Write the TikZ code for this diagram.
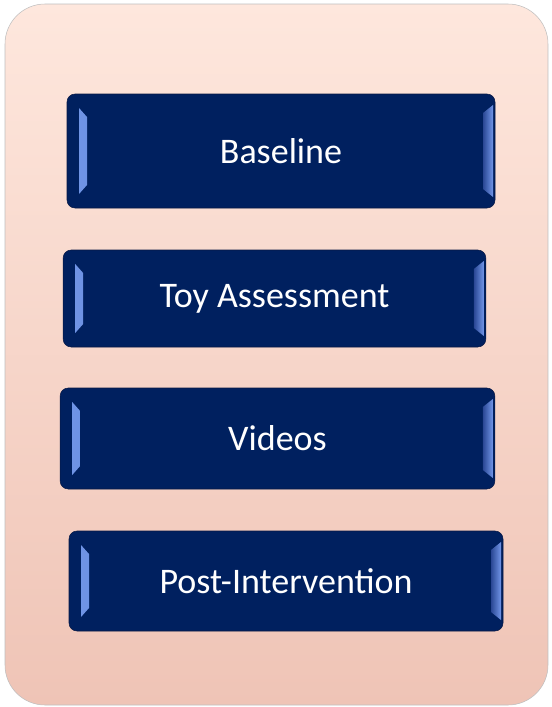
\documentclass[tikz,border=0pt]{standalone}
\usepackage{fontspec}
\setmainfont{Carlito}
\usetikzlibrary{calc}

\definecolor{navy}{HTML}{00205F}
\definecolor{navyedge}{HTML}{0B1A45}
\definecolor{bevellight}{HTML}{7196E8}
\definecolor{beveldark}{HTML}{2A4794}
\definecolor{paneltop}{HTML}{FEE7DD}
\definecolor{panelbottom}{HTML}{EFC4B6}

\begin{document}
\begin{tikzpicture}[x=0.75pt, y=-0.75pt]
        \tikzstyle{every node}=[draw=navyedge, fill=navy, rounded corners=6pt, text=white,
            font=\fontsize{27}{32}\selectfont, inner sep=0pt,
            path picture={
                \shade[sharp corners, left color=bevellight, right color=beveldark]
                    ($(path picture bounding box.north west)+(12,14)$) -- ++(8,9)
                    -- ($(path picture bounding box.south west)+(20,-23)$) -- ++(-8,9) -- cycle;
                \shade[sharp corners, left color=beveldark, right color=bevellight]
                    ($(path picture bounding box.north east)+(-2,11)$) -- ++(-10,8)
                    -- ($(path picture bounding box.south east)+(-12,-19)$) -- ++(10,8) -- cycle;
            }]
        \useasboundingbox (0,0) rectangle (552,707);

        % background panel
        \draw[draw=black!25, top color=paneltop, bottom color=panelbottom, rounded corners=30pt]
            (5,4) rectangle (548,705);

        \node (base)   [minimum width=321pt, minimum height=85.5pt]  at (281,151)   {Baseline};
        \node (toy)    [minimum width=317pt, minimum height=72.75pt] at (274.5,298.5) {Toy Assessment};
        \node (videos) [minimum width=326pt, minimum height=75.75pt] at (277.5,438.5) {Videos};
        \node (post)   [minimum width=325.5pt, minimum height=75pt]  at (286,581)   {Post-Intervention};

    \end{tikzpicture}
\end{document}
